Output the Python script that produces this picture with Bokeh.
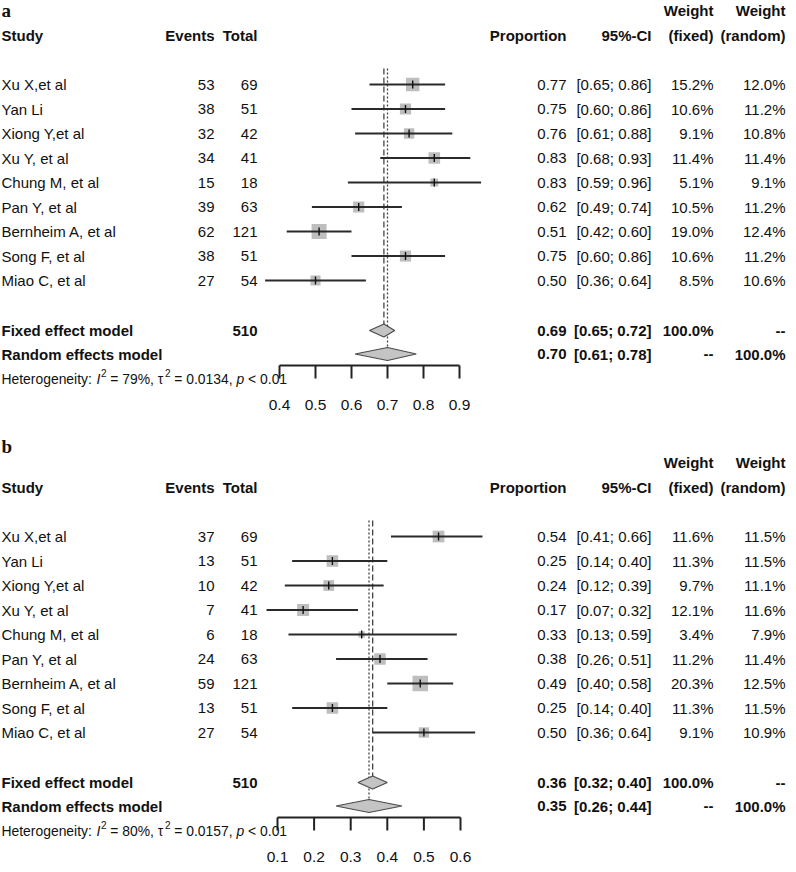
import math
from bokeh.plotting import figure
from bokeh.models import Range1d
from bokeh.layouts import column
from bokeh.embed import file_html
from bokeh.resources import INLINE
from bokeh.core.properties import value

# ---------------- data ----------------
studies = ["Xu X,et al", "Yan Li", "Xiong Y,et al", "Xu Y, et al", "Chung M, et al",
           "Pan Y, et al", "Bernheim A, et al", "Song F, et al", "Miao C, et al"]
totals = [69, 51, 42, 41, 18, 63, 121, 51, 54]

a_events = [53, 38, 32, 34, 15, 39, 62, 38, 27]
a_prop = [0.77, 0.75, 0.76, 0.83, 0.83, 0.62, 0.51, 0.75, 0.50]
a_lower = [0.65, 0.60, 0.61, 0.68, 0.59, 0.49, 0.42, 0.60, 0.36]
a_upper = [0.86, 0.86, 0.88, 0.93, 0.96, 0.74, 0.60, 0.86, 0.64]
a_w_fixed = [15.2, 10.6, 9.1, 11.4, 5.1, 10.5, 19.0, 10.6, 8.5]
a_w_random = [12.0, 11.2, 10.8, 11.4, 9.1, 11.2, 12.4, 11.2, 10.6]
a_fixed = [0.69, 0.65, 0.72]
a_random = [0.70, 0.61, 0.78]
a_i2 = "79%"
a_tau2 = "0.0134"
a_ticks = [0.4, 0.5, 0.6, 0.7, 0.8, 0.9]
a_tick_labels = ["0.4", "0.5", "0.6", "0.7", "0.8", "0.9"]

b_events = [37, 13, 10, 7, 6, 24, 59, 13, 27]
b_prop = [0.54, 0.25, 0.24, 0.17, 0.33, 0.38, 0.49, 0.25, 0.50]
b_lower = [0.41, 0.14, 0.12, 0.07, 0.13, 0.26, 0.40, 0.14, 0.36]
b_upper = [0.66, 0.40, 0.39, 0.32, 0.59, 0.51, 0.58, 0.40, 0.64]
b_w_fixed = [11.6, 11.3, 9.7, 12.1, 3.4, 11.2, 20.3, 11.3, 9.1]
b_w_random = [11.5, 11.5, 11.1, 11.6, 7.9, 11.4, 12.5, 11.5, 10.9]
b_fixed = [0.36, 0.32, 0.40]
b_random = [0.35, 0.26, 0.44]
b_i2 = "80%"
b_tau2 = "0.0157"
b_ticks = [0.1, 0.2, 0.3, 0.4, 0.5, 0.6]
b_tick_labels = ["0.1", "0.2", "0.3", "0.4", "0.5", "0.6"]

# ---------------- layout / style ----------------
FONT = "Liberation Sans"
SERIF = "Liberation Serif"
FS = "15px"
W = 788
H = 432
X_STUDY, X_EVENTS, X_TOTAL = 1, 214, 257
X_PROP, X_CI, X_WF, X_WR = 566, 651, 713, 785
HDR1, HDR2 = 15, 40
ROW0, ROWSTEP = 89, 24.5
FIXED_Y, RANDOM_Y = 335, 358.5
LINE_TOP = 73
AXIS_Y = 370
TICK_LEN = 13
TICKLAB_DY = 39
HET_Y = 383
HET_SIZE = 13.9
DIAM_H = 6.5
BOX_K = 3.44
SQ_COLOR = "#bebebe"
TXT = "#111111"
AX_COLOR = "#222222"


def panel(letter, letter_y, events, prop, lower, upper, wf, wr, fixed, random, i2, tau2,
          ticks, tick_labels, anchor_px, ppu, yoff):
    p = figure(width=W, height=H, x_range=Range1d(0, W), y_range=Range1d(H, 0),
               output_backend="svg", toolbar_location=None,
               x_axis_location=None, y_axis_location=None,
               min_border_left=0, min_border_right=0, min_border_top=0, min_border_bottom=0)
    p.outline_line_color = None
    p.grid.visible = False
    start = ticks[0] - anchor_px / ppu
    p.extra_x_ranges = {"prop": Range1d(start, start + W / ppu)}

    n = len(studies)
    ys = [ROW0 + ROWSTEP * i + yoff for i in range(n)]
    fy, ry = FIXED_Y + yoff, RANDOM_Y + yoff

    def txt(xs, yv, labels, align="right", bold=False, size=FS, font=FONT,
            style=None, range_name="default"):
        p.text(x=xs, y=yv, text=labels, text_font=value(font), text_font_size=size,
               text_align=align, text_baseline="middle", text_color=TXT,
               text_font_style=style if style else ("bold" if bold else "normal"),
               x_range_name=range_name)

    # panel letter
    txt([X_STUDY], [letter_y], [letter], align="left", bold=True, size="19px", font=SERIF)

    # headers
    txt([X_WF, X_WR], [HDR1 + yoff] * 2, ["Weight", "Weight"], bold=True)
    txt([X_STUDY], [HDR2 + yoff], ["Study"], align="left", bold=True)
    txt([X_EVENTS, X_TOTAL, X_PROP, X_CI, X_WF, X_WR], [HDR2 + yoff] * 6,
        ["Events", "Total", "Proportion", "95%-CI", "(fixed)", "(random)"], bold=True)

    # study rows
    txt([X_STUDY] * n, ys, studies, align="left")
    txt([X_EVENTS] * n, ys, [str(e) for e in events])
    txt([X_TOTAL] * n, ys, [str(t) for t in totals])
    txt([X_PROP] * n, ys, ["%.2f" % v for v in prop])
    txt([X_CI] * n, ys, ["[%.2f; %.2f]" % (lo, hi) for lo, hi in zip(lower, upper)])
    txt([X_WF] * n, ys, ["%.1f%%" % w for w in wf])
    txt([X_WR] * n, ys, ["%.1f%%" % w for w in wr])

    # model rows
    txt([X_STUDY, X_STUDY], [fy, ry], ["Fixed effect model", "Random effects model"], align="left", bold=True)
    txt([X_TOTAL], [fy], [str(sum(totals))], bold=True)
    txt([X_PROP, X_PROP], [fy, ry], ["%.2f" % fixed[0], "%.2f" % random[0]], bold=True)
    txt([X_CI, X_CI], [fy, ry], ["[%.2f; %.2f]" % (fixed[1], fixed[2]),
                                  "[%.2f; %.2f]" % (random[1], random[2])], bold=True)
    txt([X_WF, X_WF], [fy, ry], ["100.0%", "--"], bold=True)
    txt([X_WR, X_WR], [fy, ry], ["--", "100.0%"], bold=True)

    # reference lines (fixed dashed, random dotted)
    p.segment(x0=[fixed[0]], y0=[LINE_TOP + yoff], x1=[fixed[0]], y1=[fy - DIAM_H],
              x_range_name="prop", line_color="#444444", line_width=1.3, line_dash="6 3")
    p.segment(x0=[random[0]], y0=[LINE_TOP + yoff], x1=[random[0]], y1=[ry - DIAM_H],
              x_range_name="prop", line_color="#444444", line_width=1.3, line_dash="2 2")

    # boxes, CI lines, estimate ticks
    p.scatter(x=prop, y=ys, marker="square", size=[BOX_K * math.sqrt(w) for w in wf],
              fill_color=SQ_COLOR, line_color=None, x_range_name="prop")
    p.segment(x0=lower, y0=ys, x1=upper, y1=ys, x_range_name="prop",
              line_color="#2a2a2a", line_width=1.9)
    p.segment(x0=prop, y0=[y - 4 for y in ys], x1=prop, y1=[y + 4 for y in ys],
              x_range_name="prop", line_color="#111111", line_width=1.4)

    # diamonds
    p.patches(xs=[[fixed[1], fixed[0], fixed[2], fixed[0]], [random[1], random[0], random[2], random[0]]],
              ys=[[fy, fy - DIAM_H, fy, fy + DIAM_H], [ry, ry - DIAM_H, ry, ry + DIAM_H]],
              x_range_name="prop", fill_color="#c4c4c4", line_color="#4a4a4a", line_width=1.2)

    # x axis (drawn through the proportion scale)
    ay = AXIS_Y + yoff
    p.segment(x0=[ticks[0]], y0=[ay], x1=[ticks[-1]], y1=[ay], x_range_name="prop",
              line_color=AX_COLOR, line_width=2)
    p.segment(x0=ticks, y0=[ay] * len(ticks), x1=ticks, y1=[ay + TICK_LEN] * len(ticks),
              x_range_name="prop", line_color=AX_COLOR, line_width=2)
    txt(ticks, [ay + TICKLAB_DY] * len(ticks), tick_labels, align="center",
        size="15.5px", range_name="prop")

    # heterogeneity line
    hy = HET_Y + yoff
    em = HET_SIZE / 1000.0
    sup = "%.1fpx" % (HET_SIZE * 0.72)
    main = "%.1fpx" % HET_SIZE
    pieces = [
        ("Heterogeneity:", 0, 0, "normal", main),
        ("I", 6837, 0, "italic", main),
        ("2", 7150, -6, "normal", sup),
        ("= %s, \u03c4" % i2, 7822, 0, "normal", main),
        ("2", 11760, -6, "normal", sup),
        ("= %s," % tau2, 12430, 0, "normal", main),
        ("p", 16910, 0, "italic", main),
        ("< 0.01", 17740, 0, "normal", main),
    ]
    for t, dx, dy, style, size in pieces:
        txt([X_STUDY + dx * em], [hy + dy], [t], align="left", size=size, style=style)
    return p


pa = panel("a", 10, a_events, a_prop, a_lower, a_upper, a_w_fixed, a_w_random, a_fixed, a_random,
           a_i2, a_tau2, a_ticks, a_tick_labels, anchor_px=279, ppu=360, yoff=-5)
pb = panel("b", 14, b_events, b_prop, b_lower, b_upper, b_w_fixed, b_w_random, b_fixed, b_random,
           b_i2, b_tau2, b_ticks, b_tick_labels, anchor_px=277, ppu=366, yoff=15)

layout = column(pa, pb, spacing=0)
open("out.html", "w").write(file_html(layout, INLINE))
